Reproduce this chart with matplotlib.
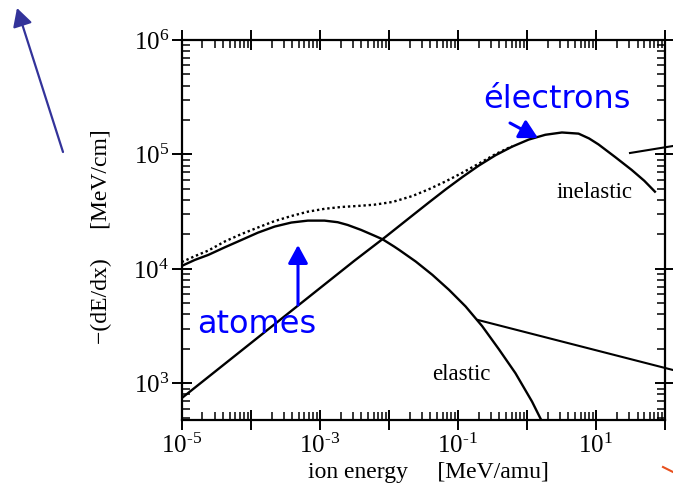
"""Energy loss of ions: elastic (atoms) vs inelastic (electrons) stopping."""
import numpy as np
import matplotlib
matplotlib.use("Agg")
import matplotlib.pyplot as plt
from matplotlib.lines import Line2D
from matplotlib.ticker import LogLocator, NullFormatter

plt.rcParams['font.family'] = ['Liberation Serif', 'DejaVu Serif']
plt.rcParams['mathtext.fontset'] = 'custom'
plt.rcParams['mathtext.rm'] = 'Liberation Serif'

W, H = 673, 487

# values, as log10(energy [MeV/amu]) and log10(-dE/dx [MeV/cm])
elastic_logE = [-5.0, -4.808, -4.616, -4.375, -4.134, -3.895, -3.654, -3.413,
                -3.173, -2.932, -2.740, -2.596, -2.403, -2.211, -2.091, -1.922,
                -1.850, -1.609, -1.369, -1.128, -0.888, -0.648, -0.407, -0.166,
                0.074, 0.218]
elastic_logS = [4.026, 4.079, 4.122, 4.189, 4.253, 4.317, 4.370, 4.405,
                4.422, 4.422, 4.408, 4.384, 4.341, 4.291, 4.259, 4.195,
                4.166, 4.064, 3.948, 3.817, 3.672, 3.500, 3.299, 3.089,
                2.841, 2.667]

inelastic_logE = [-5.0, -4.5, -4.0, -3.5, -3.0, -2.5, -2.042, -1.658, -1.417,
                  -1.176, -0.936, -0.696, -0.455, -0.215, 0.026, 0.267, 0.507,
                  0.748, 0.900, 1.036, 1.277, 1.517, 1.700, 1.854]
inelastic_logS = [2.871, 3.111, 3.351, 3.591, 3.831, 4.071, 4.283, 4.467, 4.582,
                  4.695, 4.802, 4.903, 4.993, 5.068, 5.130, 5.172, 5.192,
                  5.182, 5.140, 5.088, 4.978, 4.865, 4.770, 4.675]

total_logE = [-5.0, -4.808, -4.616, -4.375, -4.134, -3.895, -3.654, -3.413,
              -3.173, -2.932, -2.691, -2.451, -2.211, -1.946, -1.658, -1.417,
              -1.176, -0.936, -0.696, -0.455, -0.215]
total_logS = [4.060, 4.112, 4.160, 4.240, 4.305, 4.362, 4.418, 4.462,
              4.500, 4.525, 4.541, 4.550, 4.561, 4.585, 4.637, 4.697,
              4.765, 4.840, 4.920, 5.003, 5.072]

x_ticks = [10.0 ** k for k in range(-5, 3)]
x_labels = ['$\\mathregular{10^{\u20105}}$', '', '$\\mathregular{10^{\u20103}}$', '',
            '$\\mathregular{10^{\u20101}}$', '', '$\\mathregular{10^{1}}$', '']
y_ticks = [1e3, 1e4, 1e5, 1e6]
y_labels = ['$\\mathregular{10^{3}}$', '$\\mathregular{10^{4}}$',
            '$\\mathregular{10^{5}}$', '$\\mathregular{10^{6}}$']


def fx(x):
    return x / W


def fy(y):
    return 1 - y / H


fig = plt.figure(figsize=(W / 100, H / 100), dpi=100)
ax = fig.add_axes([fx(181.7), fy(420), fx(665) - fx(181.7), fy(40) - fy(420)])

ax.plot(10 ** np.array(elastic_logE), 10 ** np.array(elastic_logS),
        color='black', lw=1.7)
ax.plot(10 ** np.array(inelastic_logE), 10 ** np.array(inelastic_logS),
        color='black', lw=1.7)
ax.plot(10 ** np.array(total_logE), 10 ** np.array(total_logS),
        color='black', lw=1.7, linestyle=(0, (1, 1.2)))

ax.set_xscale('log')
ax.set_yscale('log')
ax.set_xlim(1e-5, 1e2)
ax.set_ylim(10 ** 2.68, 1e6)

ax.set_xticks(x_ticks, labels=x_labels)
ax.set_yticks(y_ticks, labels=y_labels)
ax.xaxis.set_minor_locator(LogLocator(base=10, subs=np.arange(2, 10), numticks=30))
ax.yaxis.set_minor_locator(LogLocator(base=10, subs=np.arange(2, 10), numticks=30))
ax.xaxis.set_minor_formatter(NullFormatter())
ax.yaxis.set_minor_formatter(NullFormatter())
ax.tick_params(which='major', direction='inout', length=14, width=1.4,
               top=True, right=True, labelsize=18, pad=2)
ax.tick_params(axis='x', which='major', pad=3)
ax.tick_params(which='minor', direction='in', length=6, width=1.1,
               top=True, right=True)
for s in ax.spines.values():
    s.set_linewidth(1.6)

# axis titles
fig.text(fx(308), fy(478), 'ion energy     [MeV/amu]', fontsize=17,
         ha='left', va='baseline')
fig.text(fx(101), fy(237), '\u2212(dE/dx)     [MeV/cm]', fontsize=17,
         rotation=90, ha='center', va='center')

# curve names
fig.text(fx(556.7), fy(198), 'inelastic', fontsize=16.5, va='baseline')
fig.text(fx(431.7), fy(380), 'elastic', fontsize=16.5, va='baseline')

# blue annotations
fig.text(fx(483), fy(108), '\u00e9lectrons', fontsize=23, color='#0000ff',
         family='DejaVu Sans', va='baseline')
fig.text(fx(196.7), fy(333), 'atomes', fontsize=23, color='#0000ff',
         family='DejaVu Sans', va='baseline')

arrows = [((510, 123), (538, 138), '#0000ff', 2.2),
          ((298, 305), (298, 245), '#0000ff', 2.2),
          ((63, 152), (17, 8), '#33339a', 1.6)]
for (x0, y0), (x1, y1), col, lw in arrows:
    ax.annotate('', xy=(x1, H - y1), xytext=(x0, H - y0),
                xycoords='figure pixels', textcoords='figure pixels',
                annotation_clip=False,
                arrowprops=dict(arrowstyle='-|>,head_length=0.55,head_width=0.3',
                                mutation_scale=20, color=col, lw=lw,
                                shrinkA=0, shrinkB=0))

# pointer lines leaving the frame
for (x0, y0), (x1, y1), col in [((478, 320), (673, 370), 'black'),
                                ((630, 153), (673, 146), 'black'),
                                ((663, 467), (673, 472), '#e8501e')]:
    fig.add_artist(Line2D([fx(x0), fx(x1)], [fy(y0), fy(y1)],
                          transform=fig.transFigure, color=col, lw=1.5))

fig.savefig('out.png', dpi=100)
